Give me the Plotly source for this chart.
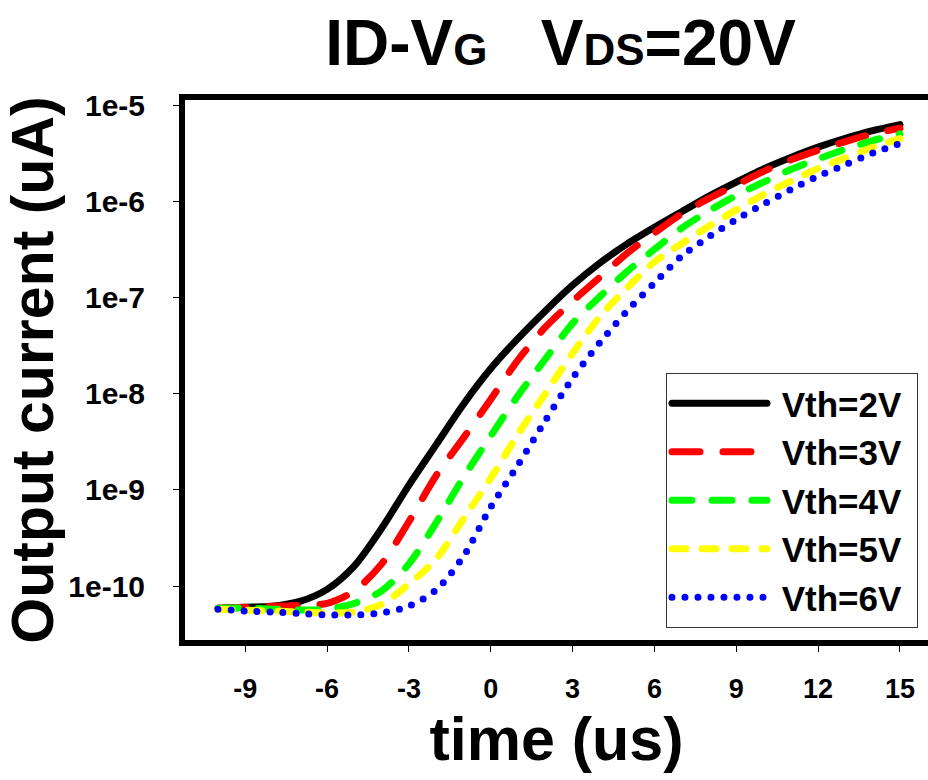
import plotly.graph_objects as go

# ---------------- data ----------------
time_us = list(range(-10, 16))

vth_2v = [5.89e-11, 6.03e-11, 6.17e-11, 6.92e-11, 9.23e-11, 1.62e-10, 3.98e-10, 1.12e-9,
          2.95e-9, 7.76e-9, 1.82e-8, 3.75e-8, 7.24e-8, 1.34e-7, 2.28e-7, 3.60e-7,
          5.35e-7, 7.78e-7, 1.13e-6, 1.58e-6, 2.17e-6, 2.85e-6, 3.65e-6, 4.51e-6,
          5.41e-6, 6.25e-6]
vth_3v = [5.89e-11, 6.03e-11, 6.17e-11, 6.31e-11, 6.61e-11, 8.91e-11, 1.70e-10, 4.68e-10,
          1.41e-9, 3.47e-9, 8.71e-9, 2.24e-8, 4.90e-8, 9.12e-8, 1.62e-7, 2.88e-7,
          4.68e-7, 7.41e-7, 1.07e-6, 1.48e-6, 2.04e-6, 2.69e-6, 3.39e-6, 4.17e-6,
          5.01e-6, 5.75e-6]
vth_4v = [5.89e-11, 5.89e-11, 5.75e-11, 5.62e-11, 5.75e-11, 6.61e-11, 8.91e-11, 1.70e-10,
          4.57e-10, 1.35e-9, 3.63e-9, 9.55e-9, 2.29e-8, 5.37e-8, 1.02e-7, 1.86e-7,
          3.16e-7, 5.25e-7, 7.94e-7, 1.15e-6, 1.58e-6, 2.14e-6, 2.75e-6, 3.47e-6,
          4.27e-6, 5.01e-6]
vth_5v = [5.75e-11, 5.62e-11, 5.50e-11, 5.37e-11, 5.25e-11, 5.37e-11, 6.46e-11, 1.05e-10,
          1.91e-10, 5.01e-10, 1.32e-9, 3.80e-9, 1.00e-8, 2.63e-8, 6.31e-8, 1.26e-7,
          2.34e-7, 3.63e-7, 5.50e-7, 8.13e-7, 1.17e-6, 1.62e-6, 2.19e-6, 2.82e-6,
          3.63e-6, 4.47e-6]
vth_6v = [5.75e-11, 5.50e-11, 5.37e-11, 5.19e-11, 5.01e-11, 5.01e-11, 5.25e-11, 6.17e-11,
          9.12e-11, 2.04e-10, 6.61e-10, 1.82e-9, 5.25e-9, 1.45e-8, 3.39e-8, 7.24e-8,
          1.41e-7, 2.69e-7, 4.27e-7, 6.46e-7, 9.33e-7, 1.32e-6, 1.82e-6, 2.40e-6,
          3.16e-6, 3.98e-6]

series_names = ["Vth=2V", "Vth=3V", "Vth=4V", "Vth=5V", "Vth=6V"]
series_values = [vth_2v, vth_3v, vth_4v, vth_5v, vth_6v]

x_tick_vals = [-9, -6, -3, 0, 3, 6, 9, 12, 15]
x_tick_text = ["-9", "-6", "-3", "0", "3", "6", "9", "12", "15"]
y_tick_vals = [1e-5, 1e-6, 1e-7, 1e-8, 1e-9, 1e-10]
y_tick_text = ["1e-5", "1e-6", "1e-7", "1e-8", "1e-9", "1e-10"]

# ---------------- styles ----------------
colors = ["#000000", "#ff0000", "#00ff00", "#ffff00", "#0000ff"]
dashes = ["solid", "28px,23px", "20px,20px", "14px,16px", "0px,13px"]
FONT = "Liberation Sans, Arial, Helvetica, sans-serif"
NB = "\u00a0"

fig = go.Figure()
for name, vals, col, dsh in zip(series_names, series_values, colors, dashes):
    fig.add_trace(go.Scatter(
        x=time_us, y=vals, mode="lines", name=NB + name + NB,
        line=dict(color=col, width=7, dash=dsh, shape="spline", smoothing=0.8),
    ))

sub = "<span style='font-size:44px'>{}</span>"
title_text = "ID-V" + sub.format("G") + NB * 3 + "V" + sub.format("DS") + "=20V"

fig.update_layout(
    width=928, height=780,
    margin=dict(l=185, r=0, t=100, b=140),
    paper_bgcolor="white", plot_bgcolor="white",
    font=dict(family=FONT, color="black"),
    title=dict(text=title_text, x=0.604, xanchor="center", y=0.946, yanchor="middle",
               font=dict(size=64, family=FONT, weight="bold", color="black")),
    showlegend=True,
    legend=dict(x=0.9865, y=0.0222, xanchor="right", yanchor="bottom",
                bgcolor="white", bordercolor="#333333", borderwidth=1,
                font=dict(size=35, family=FONT, weight="bold", color="black"),
                itemwidth=95, tracegroupgap=0),
)

fig.update_xaxes(
    range=[-11.21, 16.03], tickvals=x_tick_vals, ticktext=x_tick_text,
    showline=True, linewidth=6, linecolor="black", mirror=True,
    ticks="outside", ticklen=6, tickwidth=1, tickcolor="black",
    showgrid=False, zeroline=False,
    tickfont=dict(size=27, family=FONT, weight="bold"),
    ticklabelstandoff=14,
    title=dict(text="time (us)", font=dict(size=61, family=FONT, weight="bold"), standoff=16),
)
fig.update_yaxes(
    type="log", range=[-10.561, -4.948], tickvals=y_tick_vals, ticktext=y_tick_text,
    showline=True, linewidth=6, linecolor="black", mirror=False,
    ticks="outside", ticklen=6, tickwidth=1, tickcolor="black",
    showgrid=False, zeroline=False,
    tickfont=dict(size=30, family=FONT, weight="bold"),
    ticklabelstandoff=22,
    title=dict(text="Output current (uA)", font=dict(size=59, family=FONT, weight="bold"), standoff=6),
)

post = """
document.querySelectorAll('.scatterlayer path.js-line, .legend path.js-line').forEach(function(p){
  p.style.strokeLinecap = 'round';
});
"""
fig.write_html("out.html", post_script=post)
